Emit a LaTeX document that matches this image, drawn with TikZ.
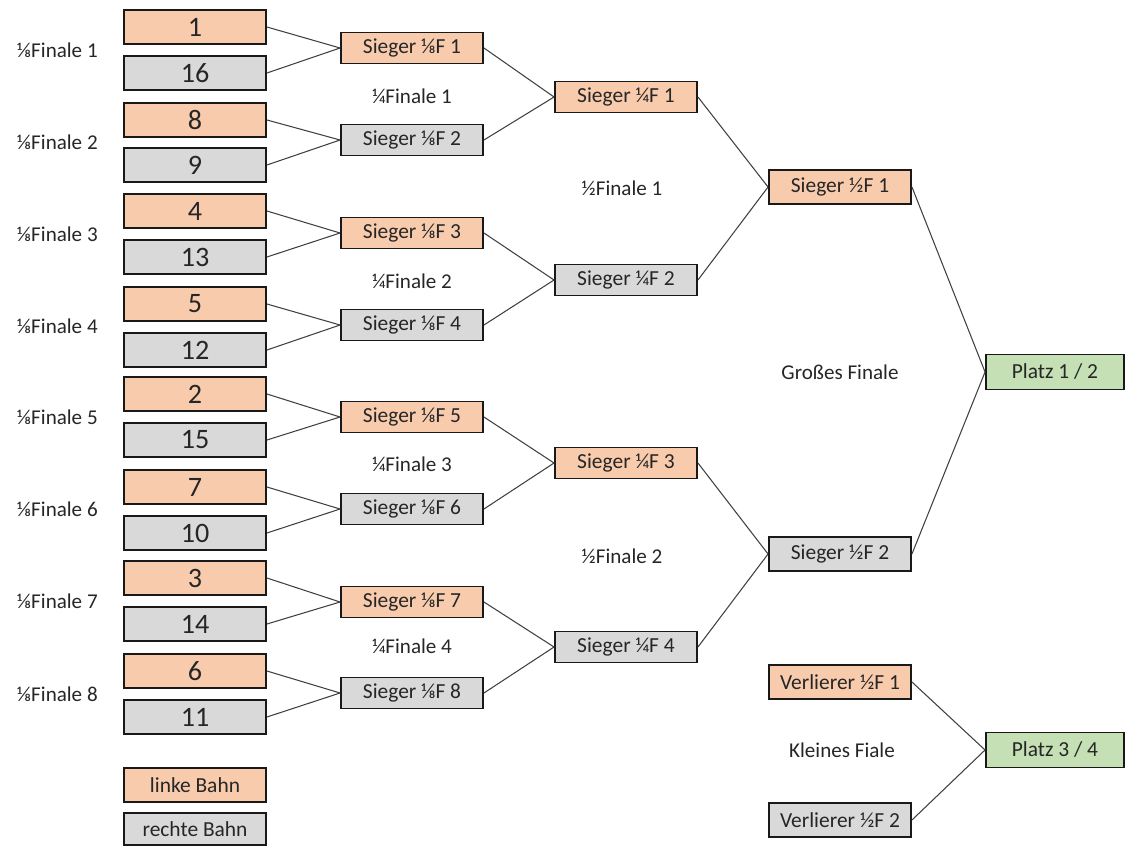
\documentclass[tikz,border=0pt]{standalone}
\usepackage{fontspec}
\setmainfont{Carlito}
\usetikzlibrary{positioning}
\definecolor{bahnlinks}{HTML}{F8CBAD}
\definecolor{bahnrechts}{HTML}{D9D9D9}
\definecolor{platzgruen}{HTML}{C5E0B4}
\definecolor{schrift}{HTML}{262626}

\begin{document}
\begin{tikzpicture}[x=0.02cm,y=-0.02cm,
  box/.style={draw=black!90,line width=1.1pt,inner sep=0pt,text=schrift,
    minimum width=2.84cm,minimum height=0.62cm,font=\fontsize{12.2}{14}\selectfont},
  links/.style={box,fill=bahnlinks},
  rechts/.style={box,fill=bahnrechts},
  platz/.style={box,fill=platzgruen,minimum width=2.76cm,minimum height=0.7cm},
  seed/.style={minimum height=0.68cm,font=\fontsize{16}{18}\selectfont},
  runde/.style={text=schrift,font=\fontsize{12}{14}\selectfont},
  link/.style={draw=black!75,line width=0.6pt}]
\useasboundingbox (0,0) rectangle (1126,848);

% Setzliste
\node[links,seed]  (t1)  at (195,27)  {1};
\node[rechts,seed] (t16) at (195,73)  {16};
\node[links,seed]  (t8)  at (195,120) {8};
\node[rechts,seed] (t9)  at (195,165) {9};
\node[links,seed]  (t4)  at (195,211) {4};
\node[rechts,seed] (t13) at (195,257) {13};
\node[links,seed]  (t5)  at (195,304) {5};
\node[rechts,seed] (t12) at (195,350) {12};
\node[links,seed]  (t2)  at (195,394) {2};
\node[rechts,seed] (t15) at (195,440) {15};
\node[links,seed]  (t7)  at (195,487) {7};
\node[rechts,seed] (t10) at (195,533) {10};
\node[links,seed]  (t3)  at (195,578) {3};
\node[rechts,seed] (t14) at (195,624) {14};
\node[links,seed]  (t6)  at (195,671) {6};
\node[rechts,seed] (t11) at (195,717) {11};

\node[runde,anchor=west] (r81) at (11,50)  {⅛Finale 1};
\node[runde,anchor=west] (r82) at (11,142) {⅛Finale 2};
\node[runde,anchor=west] (r83) at (11,234) {⅛Finale 3};
\node[runde,anchor=west] (r84) at (11,326) {⅛Finale 4};
\node[runde,anchor=west] (r85) at (11,417) {⅛Finale 5};
\node[runde,anchor=west] (r86) at (11,509) {⅛Finale 6};
\node[runde,anchor=west] (r87) at (11,601) {⅛Finale 7};
\node[runde,anchor=west] (r88) at (11,694) {⅛Finale 8};

% Achtelfinale
\node[links]  (a1) at (412,48)  {Sieger ⅛F 1};
\node[rechts] (a2) at (412,140) {Sieger ⅛F 2};
\node[links]  (a3) at (412,233) {Sieger ⅛F 3};
\node[rechts] (a4) at (412,325) {Sieger ⅛F 4};
\node[links]  (a5) at (412,417) {Sieger ⅛F 5};
\node[rechts] (a6) at (412,509) {Sieger ⅛F 6};
\node[links]  (a7) at (412,602) {Sieger ⅛F 7};
\node[rechts] (a8) at (412,693) {Sieger ⅛F 8};

\node[runde] (r41) at (412,96)  {¼Finale 1};
\node[runde] (r42) at (412,281) {¼Finale 2};
\node[runde] (r43) at (412,464) {¼Finale 3};
\node[runde] (r44) at (412,646) {¼Finale 4};

% Viertelfinale
\node[links]  (v1) at (626,97)  {Sieger ¼F 1};
\node[rechts] (v2) at (626,280) {Sieger ¼F 2};
\node[links]  (v3) at (626,463) {Sieger ¼F 3};
\node[rechts] (v4) at (626,647) {Sieger ¼F 4};

\node[runde] (r21) at (622,188) {½Finale 1};
\node[runde] (r22) at (622,556) {½Finale 2};

% Halbfinale und Finale
\node[links,minimum height=0.68cm]  (h1) at (840,187) {Sieger ½F 1};
\node[rechts,minimum height=0.68cm] (h2) at (840,554) {Sieger ½F 2};
\node[links,minimum height=0.68cm]  (l1) at (840,682) {Verlierer ½F 1};
\node[rechts,minimum height=0.68cm] (l2) at (840,820) {Verlierer ½F 2};

\node[platz] (f1) at (1055,372) {Platz 1 / 2};
\node[platz] (f3) at (1055,750) {Platz 3 / 4};

\node[runde] (gf) at (840,372) {Großes Finale};
\node[runde] (kf) at (842,750) {Kleines Fiale};

% Legende
\node[links,minimum height=0.68cm]  (lg1) at (195,785) {linke Bahn};
\node[rechts,minimum height=0.64cm] (lg2) at (195,829) {rechte Bahn};

% Verbindungen
\foreach \a/\b in {t1/a1,t16/a1,t8/a2,t9/a2,t4/a3,t13/a3,t5/a4,t12/a4,
                   t2/a5,t15/a5,t7/a6,t10/a6,t3/a7,t14/a7,t6/a8,t11/a8,
                   a1/v1,a2/v1,a3/v2,a4/v2,a5/v3,a6/v3,a7/v4,a8/v4,
                   v1/h1,v2/h1,v3/h2,v4/h2,h1/f1,h2/f1,l1/f3,l2/f3}
  \draw[link] (\a.east) -- (\b.west);
\end{tikzpicture}
\end{document}
